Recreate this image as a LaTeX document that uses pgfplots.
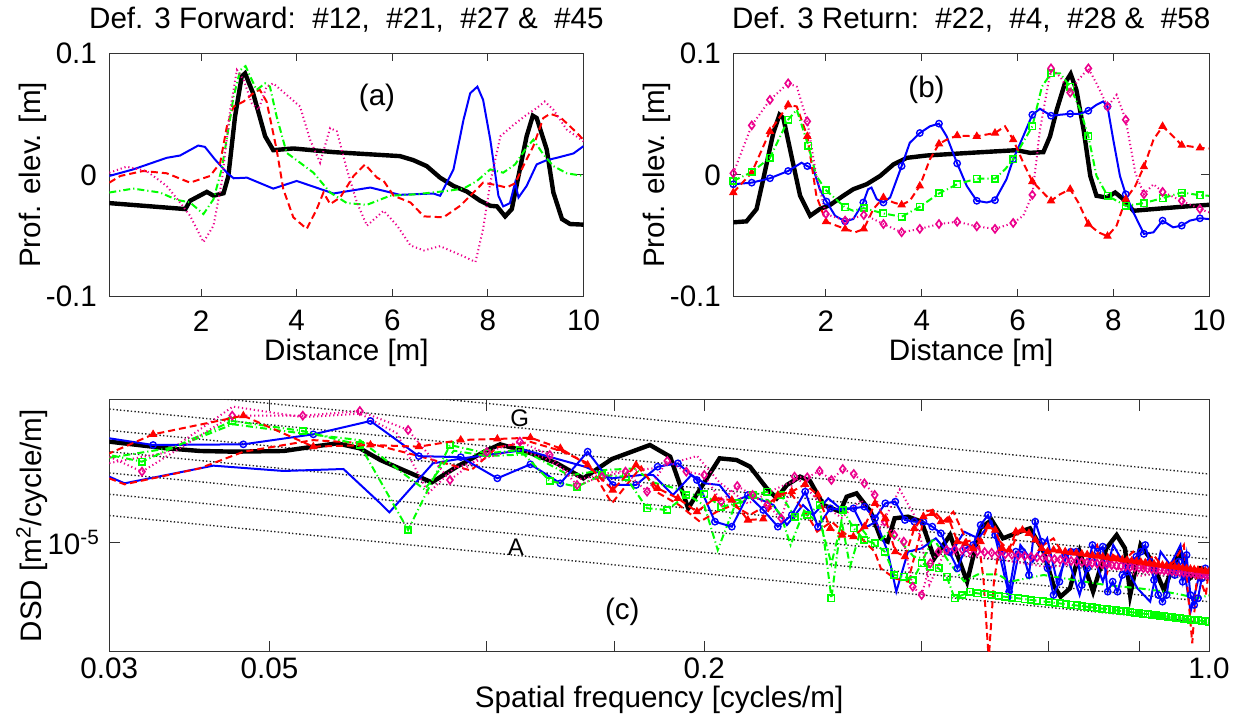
\documentclass[border=0pt]{standalone}
\usepackage{fontspec}
\setmainfont{Liberation Sans}
\usepackage{pgfplots}
\pgfplotsset{compat=1.18}
\begin{document}
\fontsize{14.8}{17.8}\selectfont
\begin{tikzpicture}
\useasboundingbox (0,0) rectangle (622.5pt,360.5pt);
\pgfplotsset{
  base/.style={scale only axis, tick align=inside,
    axis line style={black!80,line width=0.5pt},
    every tick/.style={black!80,line width=0.5pt},
    yticklabel style={anchor=east, inner sep=0pt},
    xticklabel style={anchor=center},
    every axis title shift=0pt,
  },
  blk/.style={black, line width=2.2pt},
  bl/.style={blue, line width=1pt},
  rd/.style={red, line width=1pt, dash pattern=on 3.5pt off 2pt},
  gr/.style={green, line width=1pt, dash pattern=on 3.5pt off 1.5pt on 0.6pt off 1.5pt},
  mg/.style={magenta, line width=1pt, dash pattern=on 0.6pt off 1.4pt},
  mko/.style={mark=o, mark size=1.6pt, mark options={solid, line width=0.7pt}},
  mkt/.style={mark=triangle*, mark size=2pt, mark options={solid, fill=red, line width=0.5pt}},
  mks/.style={mark=square, mark size=1.6pt, mark options={solid, line width=0.8pt}},
  mkd/.style={mark=diamond, mark size=2pt, mark options={solid, line width=0.8pt}},
  refl/.style={black!85, line width=0.7pt, dash pattern=on 0.7pt off 1.1pt},
  top/.style={base, width=237.1pt, height=121.7pt, xmax=10, ymin=-0.1, ymax=0.1,
    major tick length=4pt,
    xtick={2,4,6,8,10}, xticklabels={2,4,6,8,10},
    ytick={-0.1,0,0.1}, yticklabels={-0.1,0,0.1},
    xticklabel style={yshift=-12pt},
    yticklabel style={xshift=-6pt},
    xlabel={Distance [m]}, ylabel={Prof. elev. [m]},
    xlabel style={at={(axis description cs:0.5,-0.232)}, anchor=center},
    ylabel style={at={(axis description cs:-0.161,0.5)}, anchor=center},
    title style={at={(axis description cs:0.5,1.14)}, anchor=center},
  },
}
% ---------------- (a) ----------------
\begin{axis}[top, at={(54.65pt,212.15pt)}, anchor=south west, xmin=0.08,
  title={Def. 3 Forward:\ \ \#12,\ \ \#21,\ \ \#27 \&\ \ \#45}]
\addplot[blk] coordinates {(0.08,-0.0231) (1.67,-0.0280) (1.77,-0.0212) (2.12,-0.0139) (2.26,-0.0170) (2.47,-0.0150) (2.57,-0.0010) (2.71,0.0480) (2.85,0.0810) (2.92,0.0835) (3.09,0.0670) (3.34,0.0318) (3.51,0.0204) (3.93,0.0218) (4.77,0.0188) (6.16,0.0155) (6.44,0.0122) (6.72,0.0073) (7.00,-0.0022) (7.28,-0.0090) (7.56,-0.0136) (7.84,-0.0212) (8.05,-0.0253) (8.19,-0.0258) (8.36,-0.0340) (8.50,-0.0280) (8.64,-0.0008) (8.81,0.0318) (8.94,0.0487) (9.02,0.0468) (9.23,0.0210) (9.37,-0.0144) (9.55,-0.0362) (9.72,-0.0403) (10,-0.0408)};
\addplot[bl] coordinates {(0.08,-0.0008) (0.58,0.0046) (1.28,0.0141) (1.56,0.0160) (1.94,0.0242) (2.08,0.0231) (2.29,0.0128) (2.54,0.0019) (2.68,-0.0027) (2.96,-0.0022) (3.51,-0.0112) (4.00,-0.0049) (4.77,-0.0152) (5.54,-0.0103) (6.16,-0.0163) (6.86,-0.0152) (7.00,-0.0171) (7.28,0.0046) (7.49,0.0454) (7.63,0.0672) (7.78,0.0726) (7.90,0.0617) (8.05,0.0290) (8.22,-0.0171) (8.32,-0.0258) (8.46,-0.0231) (8.57,-0.0063) (8.64,-0.0185) (8.81,-0.0090) (9.02,0.0087) (9.23,0.0122) (9.44,0.0141) (9.79,0.0177) (10,0.0237)};
\addplot[rd] coordinates {(0.08,-0.0063) (0.31,-0.0008) (0.79,0.0033) (1.28,0.0014) (1.77,-0.0063) (2.19,-0.0008) (2.40,0.0101) (2.54,0.0400) (2.68,0.0563) (2.89,0.0604) (3.13,0.0685) (3.23,0.0699) (3.37,0.0604) (3.58,0.0210) (3.72,-0.0117) (3.93,-0.0348) (4.21,-0.0443) (4.42,-0.0280) (4.56,-0.0144) (4.70,-0.0239) (4.91,-0.0185) (5.19,-0.0008) (5.43,0.0087) (5.68,-0.0022) (5.82,-0.0049) (6.03,-0.0171) (6.38,-0.0226) (6.66,-0.0340) (7.07,-0.0348) (7.42,-0.0253) (7.70,-0.0144) (7.90,-0.0063) (8.19,-0.0084) (8.39,-0.0103) (8.57,-0.0068) (8.74,0.0073) (8.95,0.0237) (9.16,0.0468) (9.30,0.0503) (9.51,0.0476) (9.79,0.0373) (10,0.0290)};
\addplot[gr] coordinates {(0.08,-0.0144) (0.58,-0.0112) (1.14,-0.0144) (1.49,-0.0204) (1.77,-0.0226) (2.05,-0.0321) (2.26,-0.0199) (2.43,0.0046) (2.57,0.0373) (2.68,0.0645) (2.82,0.0862) (2.93,0.0895) (3.03,0.0808) (3.16,0.0699) (3.34,0.0753) (3.44,0.0726) (3.58,0.0481) (3.79,0.0182) (4.07,0.0101) (4.35,0.0019) (4.70,-0.0144) (5.05,-0.0231) (5.47,-0.0245) (5.95,-0.0171) (6.51,-0.0158) (7.14,-0.0131) (7.49,-0.0112) (7.77,-0.0049) (8.05,0.0046) (8.32,0.0019) (8.57,0.0087) (8.78,0.0210) (8.95,0.0290) (9.16,0.0169) (9.37,0.0073) (9.65,0.0014) (10,-0.0008)};
\addplot[mg] coordinates {(0.08,0.0019) (0.44,0.0068) (0.86,0.0033) (1.28,-0.0090) (1.56,-0.0226) (1.77,-0.0335) (2.05,-0.0552) (2.26,-0.0416) (2.43,-0.0063) (2.61,0.0536) (2.75,0.0862) (2.89,0.0781) (3.06,0.0590) (3.20,0.0536) (3.37,0.0726) (3.51,0.0753) (3.79,0.0658) (4.07,0.0563) (4.28,0.0290) (4.49,0.0101) (4.70,0.0386) (4.84,0.0359) (5.05,0.0046) (5.26,-0.0226) (5.47,-0.0416) (5.82,-0.0294) (6.10,-0.0416) (6.38,-0.0579) (6.66,-0.0620) (7.00,-0.0585) (7.42,-0.0656) (7.74,-0.0715) (7.90,-0.0443) (8.05,-0.0063) (8.26,0.0318) (8.54,0.0413) (8.81,0.0495) (9.02,0.0549) (9.19,0.0604) (9.37,0.0536) (9.65,0.0373) (10,0.0277)};
\node at (axis cs:5.68,0.063) {(a)};
\end{axis}
% ---------------- (b) ----------------
\begin{axis}[top, at={(366.65pt,212.15pt)}, anchor=south west, xmin=0.065, width=237.85pt,
  ylabel style={at={(axis description cs:-0.160,0.5)}},
  title={Def. 3 Return:\ \ \#22,\ \ \#4,\ \ \#28 \&\ \ \#58}]
\addplot[blk] coordinates {(0.065,-0.0389) (0.34,-0.0381) (0.55,-0.0280) (0.69,-0.0035) (0.90,0.0345) (1.03,0.0495) (1.11,0.0468) (1.28,0.0155) (1.46,-0.0171) (1.67,-0.0335) (1.87,-0.0280) (2.08,-0.0248) (2.36,-0.0171) (2.57,-0.0117) (2.85,-0.0076) (3.13,-0.0008) (3.41,0.0087) (3.69,0.0141) (4.10,0.0160) (5.01,0.0182) (5.98,0.0204) (6.26,0.0182) (6.54,0.0188) (6.68,0.0318) (6.82,0.0536) (6.99,0.0753) (7.11,0.0830) (7.23,0.0699) (7.38,0.0373) (7.52,-0.0008) (7.65,-0.0171) (7.86,-0.0185) (8.04,-0.0144) (8.21,-0.0199) (8.42,-0.0294) (8.84,-0.0280) (9.53,-0.0258) (10,-0.0245)};
\addplot[bl] coordinates {(0.065,-0.0076) (0.45,-0.0063) (0.83,-0.0027) (1.21,0.0033) (1.49,0.0101) (1.61,0.0073) (1.74,0.0046) (1.87,-0.0117) (2.01,-0.0218) (2.19,-0.0335) (2.40,-0.0381) (2.57,-0.0362) (2.78,-0.0226) (2.88,-0.0117) (2.95,-0.0103) (3.06,-0.0199) (3.20,-0.0226) (3.34,-0.0185) (3.58,0.0073) (3.75,0.0264) (3.96,0.0345) (4.17,0.0400) (4.36,0.0422) (4.52,0.0318) (4.74,0.0095) (4.94,-0.0090) (5.15,-0.0212) (5.36,-0.0226) (5.53,-0.0207) (5.77,-0.0035) (5.91,0.0128) (6.12,0.0318) (6.31,0.0495) (6.47,0.0544) (6.70,0.0487) (6.89,0.0495) (7.10,0.0503) (7.31,0.0503) (7.48,0.0528) (7.65,0.0577) (7.79,0.0604) (7.88,0.0563) (8.00,0.0290) (8.14,-0.0008) (8.26,-0.0158) (8.42,-0.0307) (8.64,-0.0484) (8.84,-0.0471) (9.03,-0.0375) (9.25,-0.0430) (9.43,-0.0416) (9.60,-0.0375) (9.81,-0.0356) (10,-0.0362)};
\addplot[blue, only marks, mko] coordinates {(0.065,-0.0076) (0.45,-0.0063) (0.83,-0.0027) (1.21,0.0033) (1.61,0.0073) (2.01,-0.0218) (2.40,-0.0381) (2.78,-0.0226) (3.20,-0.0226) (3.58,0.0073) (3.96,0.0345) (4.36,0.0422) (4.74,0.0095) (5.15,-0.0212) (5.53,-0.0207) (5.91,0.0128) (6.31,0.0495) (6.70,0.0487) (7.10,0.0503) (7.48,0.0528) (7.88,0.0563) (8.26,-0.0158) (8.64,-0.0484) (9.03,-0.0375) (9.43,-0.0416) (9.81,-0.0356)};
\addplot[rd] coordinates {(0.065,-0.0144) (0.45,0.0019) (0.83,0.0359) (1.21,0.0577) (1.39,0.0563) (1.61,0.0318) (1.80,-0.0171) (2.00,-0.0384) (2.40,-0.0443) (2.61,-0.0471) (2.79,-0.0443) (2.99,-0.0280) (3.20,-0.0185) (3.41,-0.0226) (3.58,-0.0245) (3.75,-0.0212) (3.96,-0.0090) (4.17,0.0128) (4.36,0.0256) (4.52,0.0290) (4.74,0.0324) (5.15,0.0318) (5.53,0.0345) (5.74,0.0400) (5.91,0.0290) (6.12,0.0101) (6.31,-0.0054) (6.70,-0.0212) (6.89,-0.0158) (7.10,-0.0117) (7.27,-0.0226) (7.48,-0.0403) (7.69,-0.0471) (7.88,-0.0503) (8.07,-0.0416) (8.26,-0.0199) (8.46,-0.0090) (8.64,0.0068) (8.84,0.0290) (9.03,0.0400) (9.25,0.0318) (9.43,0.0245) (9.81,0.0223) (10,0.0218)};
\addplot[red, only marks, mkt] coordinates {(0.065,-0.0144) (0.45,0.0019) (0.83,0.0359) (1.21,0.0577) (1.61,0.0318) (2.00,-0.0384) (2.40,-0.0443) (2.79,-0.0443) (3.20,-0.0185) (3.58,-0.0245) (3.96,-0.0090) (4.36,0.0256) (4.74,0.0324) (5.15,0.0318) (5.53,0.0345) (5.91,0.0290) (6.31,-0.0054) (6.70,-0.0212) (7.10,-0.0117) (7.48,-0.0403) (7.88,-0.0503) (8.26,-0.0199) (8.64,0.0068) (9.03,0.0400) (9.43,0.0245) (9.81,0.0223)};
\addplot[gr] coordinates {(0.065,-0.0049) (0.45,0.0024) (0.83,0.0141) (1.21,0.0454) (1.39,0.0536) (1.63,0.0242) (1.80,-0.0008) (2.00,-0.0125) (2.40,-0.0267) (2.57,-0.0294) (2.79,-0.0272) (3.20,-0.0316) (3.58,-0.0343) (3.96,-0.0261) (4.36,-0.0152) (4.74,-0.0076) (5.15,-0.0030) (5.53,-0.0030) (5.74,0.0046) (5.91,0.0128) (6.31,0.0400) (6.51,0.0726) (6.70,0.0835) (6.89,0.0835) (7.10,0.0726) (7.31,0.0536) (7.48,0.0318) (7.65,-0.0008) (7.88,-0.0171) (8.26,-0.0253) (8.64,-0.0231) (9.03,-0.0190) (9.43,-0.0144) (9.81,-0.0166) (10,-0.0171)};
\addplot[green, only marks, mks] coordinates {(0.065,-0.0049) (0.45,0.0024) (0.83,0.0141) (1.21,0.0454) (1.63,0.0242) (2.00,-0.0125) (2.40,-0.0267) (2.79,-0.0272) (3.20,-0.0316) (3.58,-0.0343) (3.96,-0.0261) (4.36,-0.0152) (4.74,-0.0076) (5.15,-0.0030) (5.53,-0.0030) (5.91,0.0128) (6.31,0.0400) (6.70,0.0835) (7.10,0.0726) (7.48,0.0318) (7.88,-0.0171) (8.26,-0.0253) (8.64,-0.0231) (9.03,-0.0190) (9.43,-0.0144) (9.81,-0.0166)};
\addplot[mg] coordinates {(0.065,0.0014) (0.45,0.0408) (0.83,0.0617) (1.21,0.0753) (1.39,0.0726) (1.61,0.0441) (1.80,-0.0008) (2.00,-0.0321) (2.40,-0.0375) (2.79,-0.0329) (2.99,-0.0362) (3.20,-0.0403) (3.58,-0.0471) (3.96,-0.0443) (4.36,-0.0403) (4.74,-0.0384) (5.15,-0.0422) (5.53,-0.0443) (5.91,-0.0394) (6.12,-0.0335) (6.31,-0.0163) (6.47,0.0373) (6.70,0.0876) (6.89,0.0808) (7.10,0.0677) (7.27,0.0781) (7.48,0.0876) (7.65,0.0753) (7.88,0.0563) (8.07,0.0658) (8.26,0.0454) (8.46,0.0019) (8.64,-0.0158) (8.84,-0.0076) (9.03,-0.0139) (9.43,-0.0212) (9.81,-0.0280) (10,-0.0307)};
\addplot[magenta, only marks, mkd] coordinates {(0.065,0.0014) (0.45,0.0408) (0.83,0.0617) (1.21,0.0753) (1.61,0.0441) (2.00,-0.0321) (2.40,-0.0375) (2.79,-0.0329) (3.20,-0.0403) (3.58,-0.0471) (3.96,-0.0443) (4.36,-0.0403) (4.74,-0.0384) (5.15,-0.0422) (5.53,-0.0443) (5.91,-0.0394) (6.31,-0.0163) (6.70,0.0876) (7.10,0.0677) (7.48,0.0876) (7.88,0.0563) (8.26,0.0454) (8.64,-0.0158) (9.03,-0.0139) (9.43,-0.0212) (9.81,-0.0280)};
\node at (axis cs:4.10,0.0698) {(b)};
\end{axis}
% ---------------- (c) ----------------
\begin{axis}[base, at={(54.65pt,34.65pt)}, anchor=south west, width=549.85pt, height=125.85pt,
  xmode=log, xmin=0.03, xmax=1.0, ymin=-8.093, ymax=-0.963,
  major tick length=5.5pt, xminorticks=false, clip marker paths=true,
  xtick={0.03,0.05,0.1,0.15,0.2,0.4,0.6,0.8,1.0},
  xticklabels={0.03,0.05,,,0.2,,,,1.0},
  ytick={-5}, yticklabels={10\textsuperscript{-5}},
  xticklabel style={yshift=-8.2pt},
  yticklabel style={xshift=-4.5pt},
  xlabel={Spatial frequency [cycles/m]}, ylabel={DSD [m\textsuperscript{2}/cycle/m]},
  xlabel style={at={(axis description cs:0.5,-0.192)}, anchor=center},
  ylabel style={at={(axis description cs:-0.0706,0.5)}, anchor=center}]
\addplot[refl] coordinates {(0.03,-4.235) (1.0,-7.281)};
\addplot[refl] coordinates {(0.03,-3.632) (1.0,-6.678)};
\addplot[refl] coordinates {(0.03,-3.029) (1.0,-6.075)};
\addplot[refl] coordinates {(0.03,-2.426) (1.0,-5.472)};
\addplot[refl] coordinates {(0.03,-1.823) (1.0,-4.869)};
\addplot[refl] coordinates {(0.03,-1.220) (1.0,-4.266)};
\addplot[refl] coordinates {(0.03,-0.617) (1.0,-3.663)};
\addplot[refl] coordinates {(0.03,-0.014) (1.0,-3.060)};
\addplot[blk] coordinates {(0.030,-2.143) (0.0323,-2.219) (0.0360,-2.332) (0.0401,-2.408) (0.0446,-2.427) (0.0523,-2.408) (0.0575,-2.285) (0.0620,-2.191) (0.0667,-2.332) (0.0712,-2.663) (0.0766,-2.946) (0.0839,-3.296) (0.0909,-2.852) (0.0992,-2.427) (0.1043,-2.219) (0.1135,-2.427) (0.1250,-2.757) (0.1360,-3.182) (0.1490,-2.635) (0.1682,-2.238) (0.1794,-2.568) (0.190,-4.032) (0.2003,-3.277) (0.2100,-2.616) (0.2217,-2.663) (0.2314,-2.852) (0.2441,-3.465) (0.2520,-3.749) (0.2603,-3.371) (0.2715,-3.135) (0.2802,-3.258) (0.2925,-3.938) (0.3085,-4.127) (0.315,-3.702) (0.325,-3.607) (0.340,-4.127) (0.3512,-4.882) (0.359,-4.976) (0.367,-4.315) (0.383,-4.268) (0.400,-4.41) (0.4165,-5.449) (0.438,-4.788) (0.4624,-6.11) (0.482,-4.599) (0.500,-4.363) (0.5184,-4.882) (0.5476,-4.693) (0.5651,-4.599) (0.590,-5.26) (0.609,-6.204) (0.623,-6.534) (0.642,-6.298) (0.662,-5.26) (0.691,-6.393) (0.721,-5.165) (0.745,-4.788) (0.765,-5.165) (0.778,-6.487) (0.804,-5.071) (0.829,-5.449) (0.866,-6.345) (0.894,-5.637) (0.913,-5.26) (0.94,-6.015) (0.972,-5.732) (1.0,-5.826)};
\addplot[bl] coordinates {(0.030,-3.135) (0.0315,-3.324) (0.0418,-2.823) (0.0523,-2.974) (0.0633,-2.918) (0.0712,-3.890) (0.0733,-4.145) (0.0842,-2.757) (0.0926,-2.616) (0.1013,-2.503) (0.1129,-2.380) (0.1243,-2.616) (0.1367,-2.852) (0.1490,-3.182) (0.1636,-3.087) (0.170,-3.088) (0.181,-3.654) (0.192,-3.088) (0.2003,-3.324) (0.210,-3.371) (0.219,-3.843) (0.2314,-3.654) (0.2494,-3.938) (0.2603,-4.504) (0.274,-3.938) (0.283,-4.221) (0.297,-3.749) (0.3085,-4.032) (0.322,-4.032) (0.3325,-4.599) (0.346,-4.410) (0.359,-5.260) (0.369,-6.393) (0.383,-5.260) (0.400,-5.165) (0.4185,-4.882) (0.438,-5.354) (0.458,-4.693) (0.479,-4.882) (0.500,-4.410) (0.530,-6.581) (0.548,-5.071) (0.570,-5.543) (0.597,-4.882) (0.616,-6.110) (0.636,-5.354) (0.662,-6.487) (0.688,-5.260) (0.713,-6.110) (0.737,-5.071) (0.769,-5.732) (0.796,-6.298) (0.829,-6.676) (0.857,-5.260) (0.884,-5.637) (0.913,-5.071) (0.943,-6.959) (0.972,-5.826) (1.0,-5.921)};
\addplot[rd] coordinates {(0.030,-3.182) (0.0315,-3.352) (0.040,-2.900) (0.046,-2.430) (0.0575,-2.100) (0.069,-2.200) (0.0805,-2.550) (0.095,-2.960) (0.1034,-2.300) (0.1149,-2.150) (0.1264,-2.400) (0.1379,-2.750) (0.149,-3.890) (0.1636,-2.852) (0.1715,-3.560) (0.1846,-3.938) (0.1973,-4.410) (0.2083,-4.127) (0.219,-3.938) (0.2314,-4.221) (0.2441,-3.938) (0.2541,-3.654) (0.2647,-3.654) (0.2778,-4.221) (0.2866,-4.693) (0.3002,-4.410) (0.315,-4.788) (0.3302,-4.882) (0.3444,-5.260) (0.3512,-5.732) (0.367,-6.015) (0.383,-6.110) (0.400,-4.599) (0.4024,-4.127) (0.415,-4.079) (0.4287,-4.410) (0.4425,-4.127) (0.4624,-4.976) (0.479,-4.882) (0.4871,-6.015) (0.4954,-8.3) (0.5037,-6.110) (0.5137,-4.976) (0.530,-5.260) (0.548,-4.599) (0.565,-4.788) (0.590,-5.071) (0.609,-4.882) (0.629,-5.354) (0.650,-5.260) (0.671,-5.543) (0.700,-5.071) (0.721,-5.921) (0.737,-5.354) (0.760,-5.543) (0.785,-5.260) (0.811,-5.732) (0.838,-5.354) (0.866,-5.732) (0.894,-5.543) (0.923,-5.071) (0.948,-7.856) (0.963,-5.826) (0.990,-6.487) (1.0,-5.732)};
\addplot[gr] coordinates {(0.030,-2.600) (0.037,-2.300) (0.0445,-1.650) (0.055,-1.900) (0.0667,-2.100) (0.075,-2.900) (0.082,-3.500) (0.090,-2.400) (0.100,-2.550) (0.115,-2.500) (0.130,-3.100) (0.145,-2.950) (0.160,-2.900) (0.170,-3.300) (0.185,-3.500) (0.200,-3.950) (0.2088,-5.212) (0.220,-4.000) (0.232,-3.700) (0.245,-3.800) (0.255,-4.200) (0.2634,-5.071) (0.275,-4.100) (0.290,-4.500) (0.300,-5.600) (0.310,-4.400) (0.3184,-5.685) (0.330,-4.600) (0.345,-5.100) (0.360,-4.700) (0.375,-5.000) (0.390,-5.400) (0.4024,-5.449) (0.415,-4.882) (0.438,-5.600) (0.458,-6.100) (0.479,-5.900) (0.510,-5.900) (0.530,-6.110) (0.590,-5.921) (0.650,-6.062) (0.720,-6.204) (0.800,-6.298) (0.870,-6.393) (0.920,-6.487) (0.960,-6.580) (1.0,-6.500)};
\addplot[mg] coordinates {(0.030,-2.750) (0.036,-2.450) (0.0445,-1.150) (0.0556,-1.450) (0.0667,-1.350) (0.075,-1.900) (0.083,-3.600) (0.090,-2.900) (0.100,-2.600) (0.110,-2.350) (0.120,-2.600) (0.135,-3.200) (0.150,-3.000) (0.170,-2.900) (0.1955,-2.550) (0.210,-3.300) (0.230,-3.900) (0.250,-3.500) (0.270,-3.200) (0.290,-3.900) (0.310,-4.300) (0.330,-3.800) (0.350,-4.600) (0.373,-3.500) (0.390,-4.200) (0.400,-5.000) (0.410,-6.200) (0.430,-5.300) (0.500,-5.450) (0.600,-5.700) (0.700,-5.550) (0.800,-5.950) (0.900,-5.800) (1.0,-6.000)};
\addplot[bl, mko] coordinates {(0.0230,-1.688) (0.0345,-2.238) (0.0460,-2.219) (0.0575,-1.936) (0.0690,-1.558) (0.0805,-2.554) (0.0920,-2.582) (0.1034,-3.182) (0.1149,-2.785) (0.1264,-3.324) (0.1379,-2.427) (0.1494,-3.371) (0.1609,-3.371) (0.1724,-2.852) (0.1839,-2.757) (0.1954,-3.230) (0.2069,-4.410) (0.2184,-4.552) (0.2299,-3.654) (0.2414,-4.079) (0.2529,-4.552) (0.2644,-4.221) (0.2759,-3.560) (0.2874,-4.552) (0.2989,-4.032) (0.3103,-4.079) (0.3218,-4.032) (0.3333,-3.985) (0.3448,-4.315) (0.3563,-3.890) (0.3678,-3.843) (0.3793,-4.363) (0.3908,-4.410) (0.4023,-4.410) (0.4138,-4.551) (0.4253,-4.740) (0.4368,-5.260) (0.4483,-5.732) (0.4598,-5.165) (0.4713,-5.071) (0.4828,-4.504) (0.4943,-4.221) (0.5057,-4.788) (0.5172,-5.260) (0.5287,-6.393) (0.5402,-5.260) (0.5517,-5.260) (0.5632,-5.921) (0.5747,-4.410) (0.5862,-4.976) (0.5977,-5.732) (0.6092,-6.487) (0.6207,-6.110) (0.6322,-5.354) (0.6437,-5.260) (0.6552,-5.260) (0.6667,-6.204) (0.6782,-5.732) (0.6897,-5.071) (0.7011,-5.260) (0.7126,-5.118) (0.7241,-6.393) (0.7356,-6.110) (0.7471,-6.393) (0.7586,-5.921) (0.7701,-5.826) (0.7816,-5.543) (0.7931,-5.401) (0.8046,-5.260) (0.8161,-5.071) (0.8276,-5.543) (0.8391,-6.062) (0.8506,-6.487) (0.8621,-6.676) (0.8736,-6.487) (0.8851,-5.732) (0.8966,-5.921) (0.9080,-5.543) (0.9195,-6.110) (0.9310,-5.354) (0.9425,-6.487) (0.9540,-6.770) (0.9655,-6.581) (0.9770,-6.015) (0.9885,-5.732) (1.0,-5.921)};
\addplot[gr, mks] coordinates {(0.0222,-1.976) (0.0333,-2.710) (0.0444,-1.558) (0.0556,-1.841) (0.0667,-2.238) (0.0778,-4.646) (0.0889,-2.238) (0.1,-2.474) (0.1111,-2.380) (0.1222,-3.258) (0.1333,-3.418) (0.1444,-3.088) (0.1556,-3.135) (0.1667,-4.032) (0.1778,-4.079) (0.1889,-3.654) (0.2,-3.635) (0.2111,-3.985) (0.2222,-3.890) (0.2333,-3.654) (0.2444,-3.560) (0.2556,-3.654) (0.2667,-4.268) (0.2778,-4.221) (0.2889,-3.938) (0.3,-6.581) (0.3111,-4.079) (0.3222,-4.599) (0.3333,-4.929) (0.3444,-5.024) (0.3556,-5.260) (0.3667,-5.921) (0.3778,-5.968) (0.3889,-6.062) (0.4,-5.590) (0.4111,-5.685) (0.4222,-5.732) (0.4333,-5.968) (0.4444,-6.581) (0.4556,-6.487) (0.4667,-6.393) (0.4778,-6.440) (0.4889,-6.465) (0.5,-6.489) (0.5111,-6.513) (0.5222,-6.537) (0.5333,-6.559) (0.5444,-6.582) (0.5556,-6.604) (0.5667,-6.626) (0.5778,-6.647) (0.5889,-6.667) (0.6,-6.688) (0.6111,-6.708) (0.6222,-6.727) (0.6333,-6.746) (0.6444,-6.765) (0.6556,-6.784) (0.6667,-6.802) (0.6778,-6.820) (0.6889,-6.838) (0.7,-6.855) (0.7111,-6.872) (0.7222,-6.889) (0.7333,-6.906) (0.7444,-6.922) (0.7556,-6.938) (0.7667,-6.954) (0.7778,-6.970) (0.7889,-6.985) (0.8,-7.000) (0.8111,-7.015) (0.8222,-7.030) (0.8333,-7.045) (0.8444,-7.059) (0.8556,-7.074) (0.8667,-7.088) (0.8778,-7.101) (0.8889,-7.115) (0.9,-7.129) (0.9111,-7.142) (0.9222,-7.155) (0.9333,-7.168) (0.9444,-7.181) (0.9556,-7.194) (0.9667,-7.206) (0.9778,-7.219) (0.9889,-7.231) (1.0,-7.243)};
\addplot[mg, mkd] coordinates {(0.0222,-1.342) (0.0333,-2.993) (0.0444,-1.407) (0.0556,-1.407) (0.0667,-1.275) (0.0778,-1.813) (0.0889,-3.230) (0.1,-2.432) (0.1111,-2.143) (0.1222,-2.521) (0.1333,-3.371) (0.1444,-3.135) (0.1556,-2.993) (0.1667,-3.560) (0.1778,-2.690) (0.1889,-2.993) (0.2,-3.088) (0.2111,-3.843) (0.2222,-3.400) (0.2333,-3.654) (0.2444,-3.938) (0.2556,-4.315) (0.2667,-3.135) (0.2778,-3.154) (0.2889,-2.975) (0.3,-3.230) (0.3111,-2.918) (0.3222,-3.060) (0.3333,-3.324) (0.3444,-3.654) (0.3556,-4.410) (0.3667,-4.788) (0.3778,-4.976) (0.3889,-6.251) (0.4,-6.487) (0.4111,-5.590) (0.4222,-5.260) (0.4333,-5.212) (0.4444,-5.184) (0.4556,-5.206) (0.4667,-5.228) (0.4778,-5.250) (0.4889,-5.271) (0.5,-5.291) (0.5111,-5.311) (0.5222,-5.331) (0.5333,-5.350) (0.5444,-5.368) (0.5556,-5.387) (0.5667,-5.405) (0.5778,-5.422) (0.5889,-5.440) (0.6,-5.457) (0.6111,-5.473) (0.6222,-5.490) (0.6333,-5.506) (0.6444,-5.522) (0.6556,-5.537) (0.6667,-5.553) (0.6778,-5.567) (0.6889,-5.582) (0.7,-5.597) (0.7111,-5.611) (0.7222,-5.625) (0.7333,-5.639) (0.7444,-5.653) (0.7556,-5.666) (0.7667,-5.679) (0.7778,-5.693) (0.7889,-5.706) (0.8,-5.718) (0.8111,-5.731) (0.8222,-5.743) (0.8333,-5.755) (0.8444,-5.767) (0.8556,-5.779) (0.8667,-5.791) (0.8778,-5.802) (0.8889,-5.814) (0.9,-5.825) (0.9111,-5.836) (0.9222,-5.847) (0.9333,-5.858) (0.9444,-5.869) (0.9556,-5.880) (0.9667,-5.890) (0.9778,-5.901) (0.9889,-5.911) (1.0,-5.921)};
\addplot[rd, mkt] coordinates {(0.0230,-3.502) (0.0345,-1.936) (0.0460,-1.407) (0.0575,-2.285) (0.0690,-2.238) (0.0805,-2.285) (0.0920,-2.096) (0.1034,-2.068) (0.1149,-2.030) (0.1264,-2.332) (0.1379,-2.804) (0.1494,-3.513) (0.1609,-2.804) (0.1724,-3.466) (0.1839,-3.749) (0.1954,-4.127) (0.2069,-3.749) (0.2184,-3.796) (0.2299,-4.363) (0.2414,-4.334) (0.2529,-3.654) (0.2644,-3.560) (0.2759,-3.352) (0.2874,-3.654) (0.2989,-4.599) (0.3103,-4.788) (0.3218,-4.835) (0.3333,-4.552) (0.3448,-3.890) (0.3563,-4.315) (0.3678,-5.260) (0.3793,-5.400) (0.3908,-4.599) (0.4023,-4.268) (0.4138,-4.174) (0.4253,-4.410) (0.4368,-4.363) (0.4483,-4.976) (0.4598,-5.020) (0.4713,-5.165) (0.4828,-4.976) (0.4943,-4.552) (0.5057,-4.646) (0.5172,-5.165) (0.5287,-5.212) (0.5402,-4.693) (0.5517,-4.646) (0.5632,-4.740) (0.5747,-4.929) (0.5862,-5.165) (0.5977,-5.260) (0.6092,-5.212) (0.6207,-5.235) (0.6322,-5.258) (0.6437,-5.280) (0.6552,-5.302) (0.6667,-5.324) (0.6782,-5.345) (0.6897,-5.366) (0.7011,-5.386) (0.7126,-5.406) (0.7241,-5.426) (0.7356,-5.446) (0.7471,-5.465) (0.7586,-5.484) (0.7701,-5.502) (0.7816,-5.521) (0.7931,-5.539) (0.8046,-5.557) (0.8161,-5.574) (0.8276,-5.591) (0.8391,-5.609) (0.8506,-5.625) (0.8621,-5.642) (0.8736,-5.659) (0.8851,-5.675) (0.8966,-5.691) (0.9080,-5.706) (0.9195,-5.722) (0.9310,-5.738) (0.9425,-5.753) (0.9540,-5.768) (0.9655,-5.783) (0.9770,-5.797) (0.9885,-5.812) (1.0,-5.826)};
\node[font=\fontsize{12}{14}\selectfont] at (axis cs:0.111,-1.473) {G};
\node[font=\fontsize{12}{14}\selectfont] at (axis cs:0.1097,-5.127) {A};
\node at (axis cs:0.154,-6.96) {(c)};
\end{axis}
\end{tikzpicture}
\end{document}
